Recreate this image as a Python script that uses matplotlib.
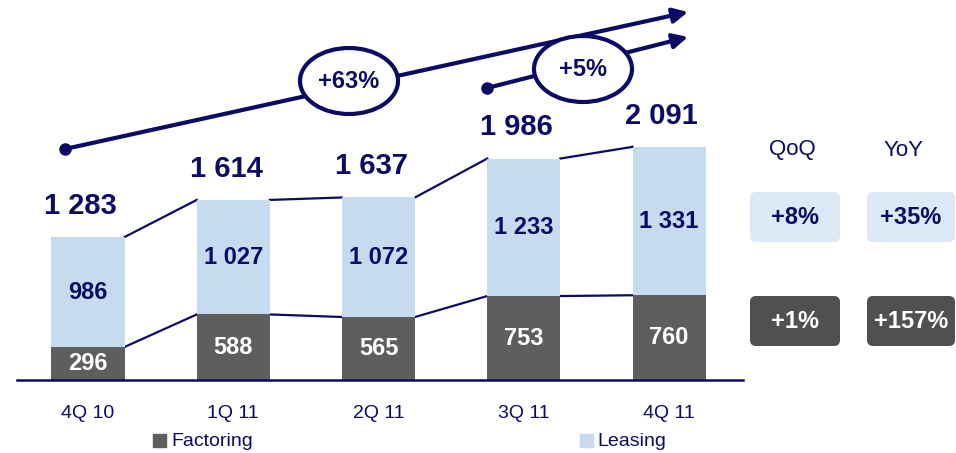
import numpy as np
import matplotlib
matplotlib.use('Agg')
import matplotlib.pyplot as plt
from matplotlib.patches import Ellipse, FancyArrowPatch, FancyBboxPatch

plt.rcParams['font.family'] = ['Liberation Sans', 'DejaVu Sans']

quarters = ['4Q 10', '1Q 11', '2Q 11', '3Q 11', '4Q 11']
factoring = [296, 588, 565, 753, 760]
leasing = [986, 1027, 1072, 1233, 1331]
totals = [1283, 1614, 1637, 1986, 2091]
growth_labels = ['+63%', '+5%']
qoq = ['+8%', '+1%']
yoy = ['+35%', '+157%']

navy = '#0b0b66'
dark = '#5e5e5e'
light = '#c6dbef'


def fmt(v):
    return f"{v:,}".replace(',', ' ')


fig = plt.figure(figsize=(9.56, 4.53), dpi=100)
ax = fig.add_axes([0, 0, 1, 1])
ax.axis('off')

# bar axes: bar centres at ~88 px, spacing ~145 px, 0.1115 px per unit
step = 145.25
scale = 0.1115
ax.set_xlim(-88 / step, (956 - 88) / step)
ax.set_ylim(-(453 - 380) / scale, 380 / scale)

x = np.arange(len(quarters))
w = 73 / step
fac = np.array(factoring)
lea = np.array(leasing)
top = fac + lea

ax.bar(x, fac, w, color=dark, zorder=2)
ax.bar(x, lea, w, bottom=fac, color=light, zorder=2)

# connectors between bars
for i in range(len(x) - 1):
    ax.plot([x[i] + w / 2, x[i + 1] - w / 2], [top[i], top[i + 1]], color=navy, lw=1.6, zorder=1)
    ax.plot([x[i] + w / 2, x[i + 1] - w / 2], [fac[i], fac[i + 1]], color=navy, lw=1.6, zorder=1)

ax.plot([-71 / step, 655 / step], [0, 0], color=navy, lw=1.8, zorder=3)

for i in range(len(x)):
    ax.text(x[i], fac[i] / 2, fmt(factoring[i]), ha='center', va='center',
            color='white', fontsize=17, fontweight='bold', zorder=4)
    ax.text(x[i], fac[i] + lea[i] / 2, fmt(leasing[i]), ha='center', va='center',
            color=navy, fontsize=17, fontweight='bold', zorder=4)
    ax.text(x[i] - 0.05, top[i] + 280, fmt(totals[i]), ha='center', va='center',
            color=navy, fontsize=21, fontweight='bold', zorder=4)
    ax.text(x[i], -33 / scale, quarters[i], ha='center', va='center',
            color=navy, fontsize=14)

# overlay in pixel coords for annotations
ov = fig.add_axes([0, 0, 1, 1])
ov.set_xlim(0, 956)
ov.set_ylim(453, 0)
ov.axis('off')
ov.patch.set_visible(False)

# legend
ov.add_patch(plt.Rectangle((153, 434), 13, 13, color=dark))
ov.text(171, 441, 'Factoring', color=navy, fontsize=14, va='center')
ov.add_patch(plt.Rectangle((580, 434), 13, 13, color=light))
ov.text(597, 441, 'Leasing', color=navy, fontsize=14, va='center')

# growth arrows
for (x0, y0, x1, y1), (ex, ey, ew, eh), lab in zip(
        [(65, 149, 688, 12), (487, 88, 688, 37)],
        [(349, 81, 98, 66), (583, 69, 98, 66)], growth_labels):
    ov.add_patch(FancyArrowPatch((x0, y0), (x1, y1), arrowstyle='-|>', mutation_scale=22,
                                 color=navy, lw=3, shrinkA=0, shrinkB=0, zorder=2))
    ov.plot([x0], [y0], 'o', color=navy, ms=8, zorder=3)
    ov.add_patch(Ellipse((ex, ey), ew, eh, facecolor='white', edgecolor=navy, lw=3, zorder=4))
    ov.text(ex, ey, lab, ha='center', va='center', color=navy, fontsize=17,
            fontweight='bold', zorder=5)

# QoQ / YoY boxes
ov.text(792, 150, 'QoQ', ha='center', va='center', color=navy, fontsize=16)
ov.text(904, 150, 'YoY', ha='center', va='center', color=navy, fontsize=16)
for col, (cx, vals) in enumerate([(795, qoq), (911, yoy)]):
    for row, (cy, fc, tc) in enumerate([(217, '#dce8f5', navy), (321, '#505050', 'white')]):
        bw = 90 if col == 0 else 88
        ov.add_patch(FancyBboxPatch((cx - bw / 2 + 6, cy - 25 + 6), bw - 12, 50 - 12,
                                    boxstyle='round,pad=6', facecolor=fc, edgecolor='none'))
        ov.text(cx, cy, vals[row], ha='center', va='center', color=tc, fontsize=17,
                fontweight='bold')

fig.savefig('out.png', dpi=100)
